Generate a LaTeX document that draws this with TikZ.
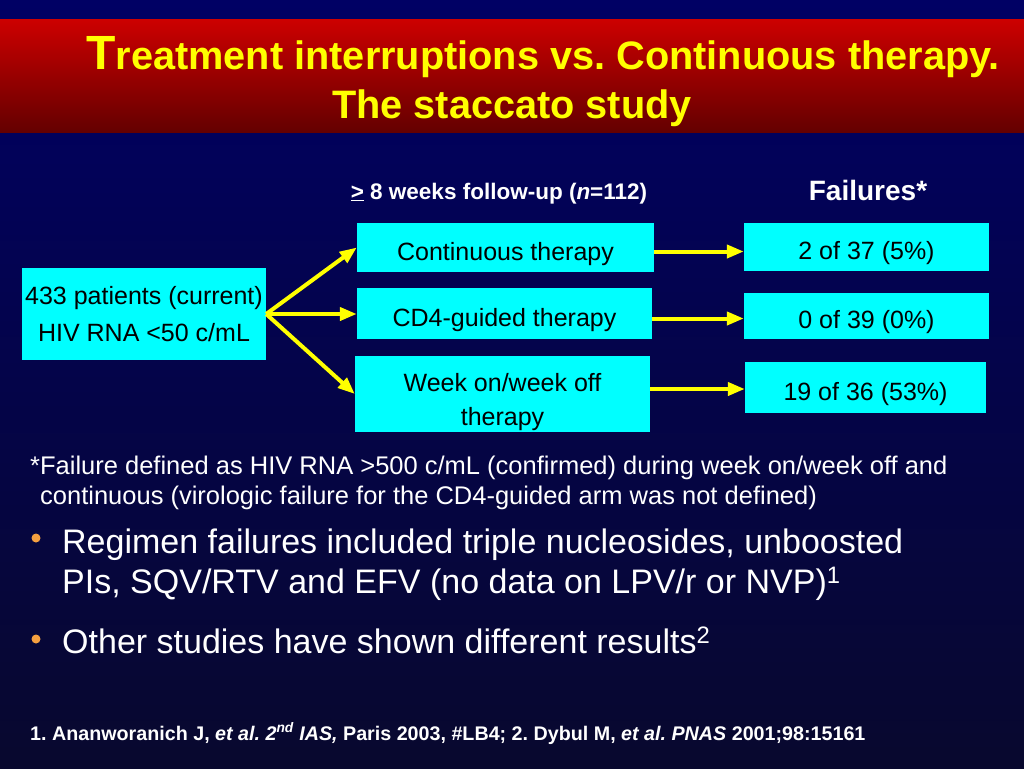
\documentclass[tikz,border=0pt]{standalone}
\usepackage{fontspec}
\setmainfont{Liberation Sans}
\usepackage{xcolor}
\usetikzlibrary{arrows.meta, positioning, calc}
\frenchspacing

\definecolor{navytop}{RGB}{0,0,100}
\definecolor{navybot}{RGB}{8,8,46}
\definecolor{bartop}{RGB}{204,0,0}
\definecolor{barbot}{RGB}{100,0,0}
\definecolor{slideyellow}{RGB}{255,255,0}
\definecolor{boxcyan}{RGB}{0,255,255}
\definecolor{bulletorange}{RGB}{245,160,64}

\begin{document}
\begin{tikzpicture}[x=1pt, y=-1pt]
  \tikzset{
    box/.style={rectangle, fill=boxcyan, inner sep=0pt, align=center, font=\fontsize{25}{30}\selectfont},
    oneline/.style={box, text height=25pt, text depth=0pt},
    flow/.style={-{Triangle[length=17pt, width=13pt]}, line width=4pt, draw=slideyellow},
    heading/.style={anchor=base, inner sep=0pt, text=white},
    titletext/.style={anchor=base, inner sep=0pt, text=slideyellow, font=\bfseries\fontsize{39.7}{46}\selectfont},
    note/.style={anchor=base west, inner sep=0pt, text=white, font=\fontsize{25.5}{30}\selectfont},
    bullettext/.style={anchor=base west, inner sep=0pt, text=white, font=\fontsize{34}{40}\selectfont},
    bulletdot/.style={circle, fill=bulletorange, inner sep=0pt, minimum size=9pt}
  }

  % Slide background and title bar
  \useasboundingbox (0,0) rectangle (1024,768);
  \shade[top color=navytop, bottom color=navybot] (0,0) rectangle (1024,768);
  \shade[top color=bartop, bottom color=barbot] (0,20) rectangle (1024,132);

  \node[titletext] (title1) at (543,70) {{\fontsize{48}{48}\selectfont T}reatment interruptions vs. Continuous therapy.};
  \node[titletext] (title2) at (512,118) {The staccato study};

  % Column headings
  \node[heading, font=\bfseries\fontsize{22.5}{27}\selectfont] (followup) at (499,199) {\underline{>} 8 weeks follow-up (\textit{n}=112)};
  \node[heading, font=\bfseries\fontsize{28}{32}\selectfont] (failures) at (868,200) {Failures*};

  % Study population and arms
  \node[box, minimum width=244pt, minimum height=92pt, font=\fontsize{25}{37}\selectfont] (pat) at (144,314) {433 patients (current)\\HIV RNA <50 c/mL};
  \node[oneline, minimum width=297pt, minimum height=49pt] (cont) at (505.5,247.5) {Continuous therapy};
  \node[oneline, minimum width=295pt, minimum height=51pt] (cd4) at (504.5,313.5) {CD4-guided therapy};
  \node[box, minimum width=295pt, minimum height=76pt, font=\fontsize{25}{34}\selectfont] (week) at (502.5,394) {\rule{0pt}{34pt}Week on/week off\\therapy};

  % Failure counts
  \node[oneline, minimum width=245pt, minimum height=48pt] (res1) at (866.5,247) {2 of 37 (5\%)};
  \node[oneline, minimum width=245pt, minimum height=46pt] (res2) at (866.5,316) {0 of 39 (0\%)};
  \node[oneline, minimum width=241pt, minimum height=51pt] (res3) at (865.5,387.5) {19 of 36 (53\%)};

  % Randomisation arrows
  \draw[flow] (pat.east) -- (cont.west);
  \draw[flow] (pat.east) -- (pat.east -| cd4.west);
  \draw[flow] (pat.east) -- (week.west);

  \draw[flow] ($(cont.east)+(0,4)$) -- ($(cont.east -| res1.west)+(0,4)$);
  \draw[flow] ($(cd4.east)+(0,5)$) -- ($(cd4.east -| res2.west)+(0,5)$);
  \draw[flow] ($(week.east)+(0,-5)$) -- ($(week.east -| res3.west)+(0,-5)$);

  % Footnote and bullets
  \node[note] (fn1) at (30,474) {*Failure defined as HIV RNA >500 c/mL (confirmed) during week on/week off and};
  \node[note] (fn2) at (40,504) {continuous (virologic failure for the CD4-guided arm was not defined)};

  \node[bulletdot] (b1) at (36,538) {};
  \node[bullettext] (b1a) at (62,553) {Regimen failures included triple nucleosides, unboosted};
  \node[bullettext] (b1b) at (62,593) {PIs, SQV/RTV and EFV (no data on LPV/r or NVP)\textsuperscript{1}};

  \node[bulletdot] (b2) at (36,639) {};
  \node[bullettext] (b2a) at (62,653) {Other studies have shown different results\textsuperscript{2}};

  % Reference line
  \node[note, font=\bfseries\fontsize{19.7}{22}\selectfont] (refs) at (30,740) {1. Ananworanich J, \textit{et al. 2\textsuperscript{nd} IAS,} Paris 2003, \#LB4; 2. Dybul M, \textit{et al. PNAS} 2001;98:15161};
\end{tikzpicture}
\end{document}
